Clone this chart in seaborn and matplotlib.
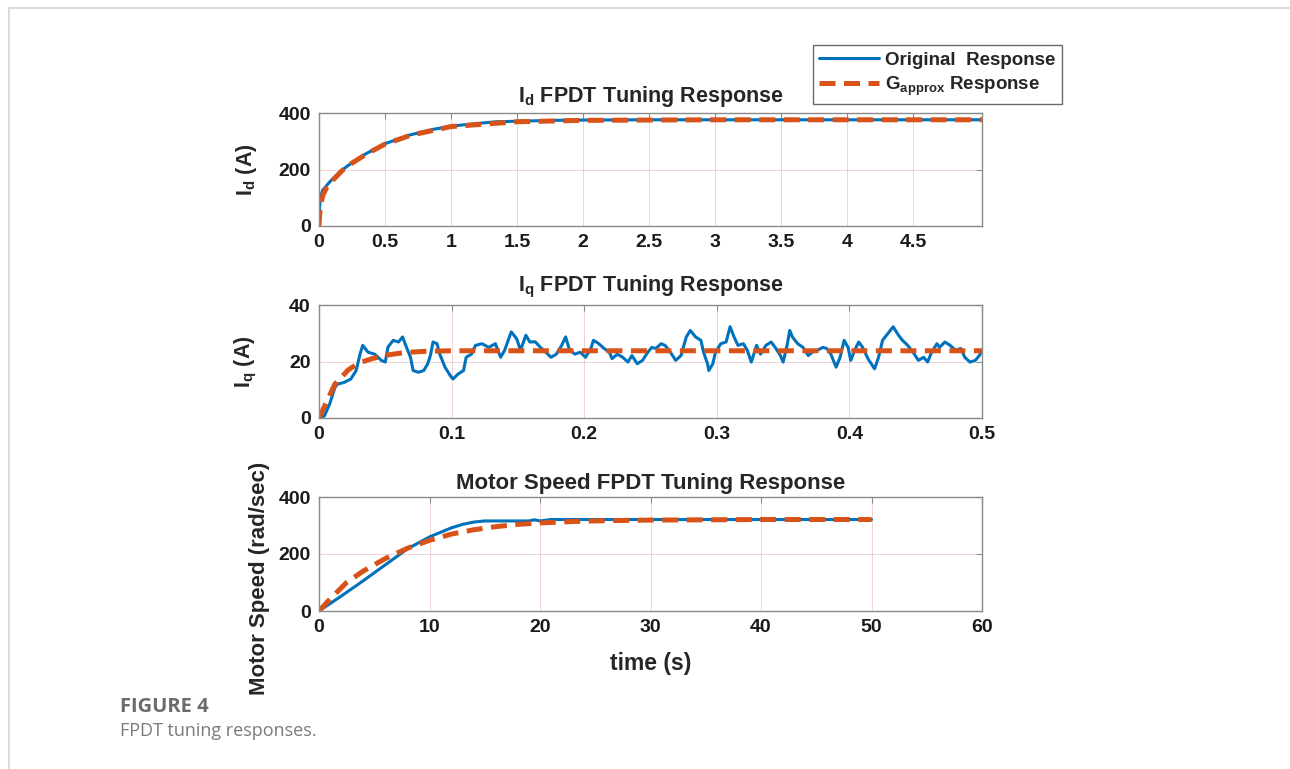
import numpy as np
import pandas as pd
import seaborn as sns
import matplotlib.pyplot as plt
from matplotlib.lines import Line2D

# Figure 4 - FPDT tuning responses (Id, Iq, motor speed)

# --- Id response (A) ---
id_t_orig = [0, 0.005, 0.012, 0.028, 0.083, 0.158, 0.26, 0.36, 0.51, 0.686, 0.862,
             1.01, 1.2, 1.34, 1.6, 1.8, 2.0, 2.5, 3.0, 4.0, 5.02]
id_orig = [0, 70, 105, 127, 157, 192, 228, 257, 293, 322, 342,
           354, 363, 369, 372, 374, 375, 376, 376, 376, 376]
id_t_approx = [0, 0.005, 0.01, 0.03, 0.06, 0.1, 0.2, 0.36, 0.5, 0.7, 1.0,
               1.5, 2.0, 3.0, 4.0, 5.02]
id_approx = [0, 40, 70, 110, 138, 160, 208, 255, 290, 322, 352,
             369, 374, 376, 376, 376]

# --- Iq response (A) ---
iq_t_orig = [0.000, 0.004, 0.008, 0.012, 0.014, 0.019, 0.024, 0.028, 0.031, 0.033,
             0.037, 0.042, 0.047, 0.050, 0.052, 0.056, 0.060, 0.063, 0.066, 0.069,
             0.071, 0.075, 0.079, 0.082, 0.084, 0.086, 0.089, 0.091, 0.095, 0.099,
             0.101, 0.105, 0.109, 0.111, 0.115, 0.118, 0.123, 0.128, 0.133, 0.137,
             0.140, 0.145, 0.149, 0.152, 0.156, 0.159, 0.163, 0.167, 0.171, 0.175,
             0.179, 0.183, 0.186, 0.189, 0.193, 0.197, 0.201, 0.205, 0.207, 0.211,
             0.215, 0.219, 0.221, 0.225, 0.229, 0.233, 0.236, 0.240, 0.244, 0.248,
             0.251, 0.254, 0.258, 0.261, 0.265, 0.269, 0.273, 0.277, 0.280, 0.284,
             0.288, 0.290, 0.293, 0.294, 0.297, 0.299, 0.303, 0.307, 0.310, 0.313,
             0.316, 0.320, 0.323, 0.326, 0.330, 0.333, 0.337, 0.341, 0.344, 0.348,
             0.350, 0.353, 0.355, 0.357, 0.361, 0.365, 0.369, 0.372, 0.376, 0.380,
             0.383, 0.386, 0.390, 0.393, 0.396, 0.399, 0.401, 0.404, 0.407, 0.410,
             0.414, 0.419, 0.422, 0.425, 0.429, 0.433, 0.437, 0.440, 0.444, 0.448,
             0.452, 0.456, 0.459, 0.462, 0.466, 0.468, 0.472, 0.476, 0.480, 0.484,
             0.487, 0.491, 0.495, 0.498, 0.500]
iq_orig = [0.0, 0.7, 4.9, 10.8, 12.0, 12.6, 13.8, 16.8, 22.7, 25.7,
           23.3, 22.6, 20.4, 19.8, 25.1, 27.5, 26.9, 28.7, 25.0, 21.5,
           16.8, 16.2, 16.8, 19.2, 22.1, 26.9, 26.3, 22.7, 18.0, 15.0,
           13.8, 15.6, 16.8, 21.5, 22.6, 25.7, 26.3, 25.0, 26.3, 21.5,
           24.0, 30.5, 28.1, 24.0, 29.3, 26.9, 27.0, 25.0, 23.3, 21.5,
           22.6, 25.7, 28.7, 24.0, 22.6, 23.3, 21.5, 24.6, 27.5, 26.3,
           24.6, 23.3, 21.0, 22.6, 21.5, 19.8, 22.1, 19.2, 20.4, 23.3,
           25.0, 24.6, 26.3, 25.7, 23.3, 20.4, 22.1, 28.7, 31.0, 28.7,
           27.5, 23.3, 19.2, 16.8, 19.2, 23.3, 26.3, 26.9, 32.3, 28.7,
           25.7, 26.3, 24.0, 19.8, 25.7, 22.6, 25.7, 26.9, 25.0, 22.1,
           19.8, 25.7, 31.0, 28.7, 26.3, 25.0, 22.1, 23.3, 24.0, 25.0,
           24.6, 22.6, 18.0, 21.5, 27.5, 25.0, 20.4, 24.0, 26.9, 25.0,
           21.0, 17.4, 21.5, 27.5, 29.9, 32.3, 29.3, 27.5, 25.7, 23.3,
           20.4, 21.5, 19.8, 23.3, 26.3, 25.0, 26.9, 25.7, 24.0, 24.6,
           21.5, 19.8, 20.4, 22.1, 24.0]
iq_t_approx = [0, 0.005, 0.012, 0.022, 0.03, 0.04, 0.05, 0.065, 0.08, 0.1, 0.2, 0.3, 0.4, 0.5]
iq_approx = [0, 5, 12, 17, 19.5, 21, 22.2, 23.2, 23.6, 23.8, 23.8, 23.8, 23.8, 23.8]

# --- Motor speed (rad/sec) ---
w_t_orig = [0, 2, 4, 6, 8, 10, 12, 13, 14, 15, 19, 19.5, 20, 21, 30, 40, 50]
w_orig = [0, 52, 106, 162, 218, 260, 292, 304, 312, 316, 316, 320, 316, 321, 321, 321, 321]
w_t_approx = [0, 1, 2.5, 4, 6, 8, 10, 12, 14, 16, 18, 20, 23, 26, 30, 35, 40, 50]
w_approx = [0, 42, 100, 140, 184, 220, 248, 270, 285, 296, 304, 309, 314, 317, 319, 320, 321, 321]

blue = '#0072BD'
orange = '#D95319'
grid_col = '#efd3d3'

sns.set_theme(style='white')
plt.rcParams['font.family'] = ['Liberation Sans', 'DejaVu Sans']
plt.rcParams['font.weight'] = 'bold'
plt.rcParams['mathtext.fontset'] = 'custom'
plt.rcParams['mathtext.bf'] = 'Liberation Sans:bold'
plt.rcParams['mathtext.rm'] = 'Liberation Sans:bold'
plt.rcParams['mathtext.default'] = 'bf'

fig = plt.figure(figsize=(12.9, 7.69), dpi=100)
fig.patch.set_facecolor('white')

# page frame lines
fig.add_artist(Line2D([9 / 1290, 1], [1 - 8 / 769, 1 - 8 / 769], color='#d4d4d4', lw=1.2))
fig.add_artist(Line2D([9 / 1290, 9 / 1290], [0, 1 - 8 / 769], color='#d4d4d4', lw=1.2))

left = 319 / 1290
width = 663 / 1290
ax1 = fig.add_axes([left, 1 - 226 / 769, width, 113 / 769])
ax2 = fig.add_axes([left, 1 - 418 / 769, width, 113 / 769])
ax3 = fig.add_axes([left, 1 - 611 / 769, width, 114 / 769])

dash = (0, (3.2, 1.7))


def draw(ax, t1, y1, t2, y2):
    sns.lineplot(x=t1, y=y1, ax=ax, color=blue, lw=2.2, estimator=None, sort=False)
    sns.lineplot(x=t2, y=y2, ax=ax, color=orange, lw=3.6, linestyle=dash,
                 estimator=None, sort=False)


draw(ax1, id_t_orig, id_orig, id_t_approx, id_approx)
draw(ax2, iq_t_orig, iq_orig, iq_t_approx, iq_approx)
draw(ax3, w_t_orig, w_orig, w_t_approx, w_approx)

ax1.set_xlim(0, 5.02)
ax1.set_ylim(0, 400)
ax1.set_xticks([0, 0.5, 1, 1.5, 2, 2.5, 3, 3.5, 4, 4.5])
ax1.set_xticklabels(['0', '0.5', '1', '1.5', '2', '2.5', '3', '3.5', '4', '4.5'])
ax1.set_yticks([0, 200, 400])
ax1.set_title(r'I$_{d}$ FPDT Tuning Response', fontsize=15.5, fontweight='bold', pad=8)
ax1.set_ylabel(r'I$_{d}$ (A)', fontsize=15.5, fontweight='bold')

ax2.set_xlim(0, 0.5)
ax2.set_ylim(0, 40)
ax2.set_xticks([0, 0.1, 0.2, 0.3, 0.4, 0.5])
ax2.set_xticklabels(['0', '0.1', '0.2', '0.3', '0.4', '0.5'])
ax2.set_yticks([0, 20, 40])
ax2.set_title(r'I$_{q}$ FPDT Tuning Response', fontsize=15.5, fontweight='bold', pad=10)
ax2.set_ylabel(r'I$_{q}$ (A)', fontsize=15.5, fontweight='bold')

ax3.set_xlim(0, 60)
ax3.set_ylim(0, 400)
ax3.set_xticks([0, 10, 20, 30, 40, 50, 60])
ax3.set_yticks([0, 200, 400])
ax3.set_title('Motor Speed FPDT Tuning Response', fontsize=16, fontweight='bold', pad=6)
ax3.set_ylabel('Motor Speed (rad/sec)', fontsize=16, fontweight='bold')
ax3.set_xlabel('time (s)', fontsize=16.5, fontweight='bold')

for ax in (ax1, ax2, ax3):
    ax.grid(True, color=grid_col, lw=0.7)
    ax.set_facecolor('white')
    for s in ax.spines.values():
        s.set_color('#8a8a8a')
        s.set_linewidth(1.0)
    ax.tick_params(direction='in', length=4, width=0.8, color='#8a8a8a',
                   labelsize=14, labelcolor='#1a1a1a', pad=6,
                   top=True, right=True)
    for lab in ax.get_xticklabels() + ax.get_yticklabels():
        lab.set_fontweight('bold')
    if ax is not ax3:
        ax.set_xlabel('')
    ax.yaxis.set_label_coords(-0.09, 0.5)

ax3.yaxis.set_label_coords(-0.074, 0.29)
ax3.xaxis.set_label_coords(0.5, -0.36)

handles = [Line2D([], [], color=blue, lw=2.2),
           Line2D([], [], color=orange, lw=3.6, linestyle=dash)]
leg = fig.legend(handles, ['Original  Response', r'G$_{approx}$ Response'],
                 loc='upper right', bbox_to_anchor=(1062 / 1290, 1 - 45 / 769),
                 borderaxespad=0, handlelength=3.2, handletextpad=0.3,
                 borderpad=0.35, labelspacing=0.3, frameon=True, fancybox=False,
                 prop={'weight': 'bold', 'size': 13.5})
leg.get_frame().set_edgecolor('#444444')
leg.get_frame().set_linewidth(1.0)

fig.text(120 / 1290, 1 - 707 / 769, 'FIGURE 4', fontsize=14.5, fontweight='bold',
         color='#6b6b6b', family=['Open Sans', 'DejaVu Sans'], va='center')
fig.text(120 / 1290, 1 - 731 / 769, 'FPDT tuning responses.', fontsize=13,
         fontweight='normal', color='#7a7a7a', family=['Open Sans', 'DejaVu Sans'],
         va='center')

fig.savefig('out.png', dpi=100, facecolor='white')
